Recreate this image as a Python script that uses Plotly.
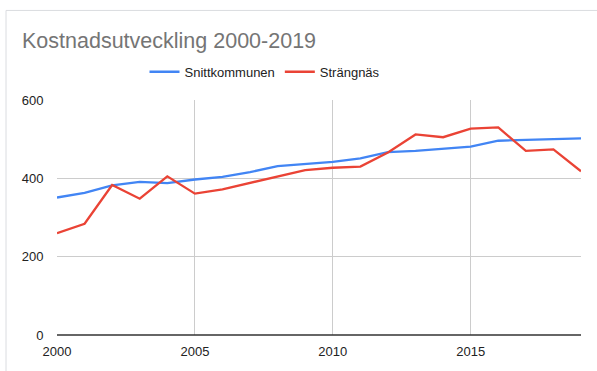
import plotly.graph_objects as go

years = list(range(2000, 2020))
snittkommunen = [351, 363, 382, 391, 388, 397, 404, 416, 431, 436, 442, 451, 467, 470, 476, 481, 496, 498, 501, 502]
strangnas = [260, 284, 383, 348, 405, 361, 372, 388, 404, 421, 427, 430, 466, 512, 505, 527, 530, 470, 474, 418]
y_ticks = [0, 200, 400, 600]
x_ticks = [2000, 2005, 2010, 2015]

W, H = 597, 371
L, R, T, B = 57, 581, 99.5, 337

def px(x):
    return (x - L) / (R - L)

def py(y):
    return (B - y) / (B - T)

fig = go.Figure()
fig.add_trace(go.Scatter(x=years, y=snittkommunen, mode="lines", name="Snittkommunen",
                         line=dict(color="#4285F4", width=2.3)))
fig.add_trace(go.Scatter(x=years, y=strangnas, mode="lines", name="Strängnäs",
                         line=dict(color="#EA4335", width=2.3)))

fig.update_layout(
    width=W, height=H,
    margin=dict(l=L, r=W - R, t=T, b=H - B),
    paper_bgcolor="white", plot_bgcolor="white",
    font=dict(family="Arial, Liberation Sans, sans-serif", size=13, color="#222222"),
    title=dict(text="Kostnadsutveckling 2000-2019", xref="container", yref="container",
               x=22 / W, xanchor="left", y=1 - 40 / H, yanchor="middle",
               font=dict(size=21.5, color="#757575")),
    legend=dict(orientation="h", x=px(265), xanchor="center", y=py(71), yanchor="middle",
                font=dict(size=13, color="#222222"), itemwidth=30, bgcolor="rgba(0,0,0,0)"),
    xaxis=dict(range=[2000, 2019], tickvals=x_ticks, ticktext=[str(v) for v in x_ticks],
               showgrid=True, gridcolor="#cccccc", gridwidth=1, zeroline=False,
               showline=False, ticks="outside", ticklen=4, tickcolor="rgba(0,0,0,0)"),
    yaxis=dict(range=[0, 600], tickvals=y_ticks, ticktext=[str(v) for v in y_ticks],
               showgrid=True, gridcolor="#cccccc", gridwidth=1, zeroline=False,
               showline=False, ticks="outside", ticklen=10, tickcolor="rgba(0,0,0,0)"),
    showlegend=True,
)

# baseline axis at y=0
fig.add_shape(type="line", xref="paper", yref="paper", x0=0, x1=1, y0=0, y1=0,
              line=dict(color="#333333", width=1.5))
# outer card border
fig.add_shape(type="rect", xref="paper", yref="paper", x0=px(6), x1=px(640), y0=py(420), y1=py(9),
              line=dict(color="#dadce0", width=1), layer="below")

fig.write_html("out.html", config={"displayModeBar": False},
               post_script="document.body.style.margin='0';document.body.style.overflow='hidden';")
